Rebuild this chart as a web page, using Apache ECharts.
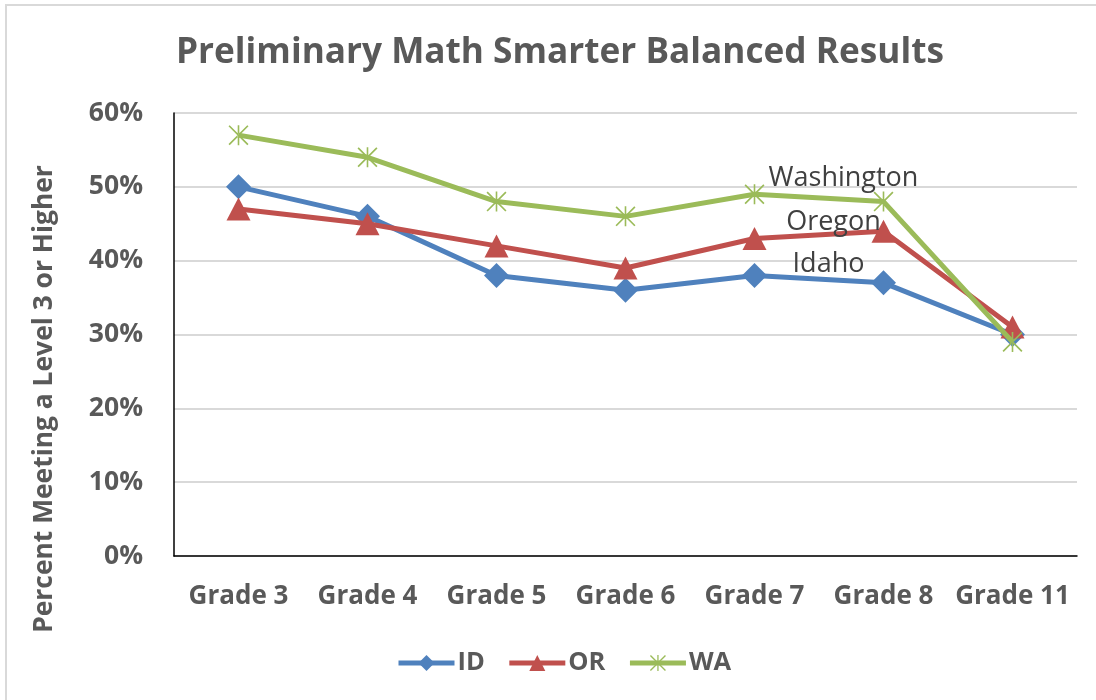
<!DOCTYPE html>
<html>
<head>
<meta charset="utf-8">
<script src="https://cdn.jsdelivr.net/npm/echarts@6/dist/echarts.min.js"></script>
<style>
  html, body { margin: 0; padding: 0; background: #fff; }
  #chart { width: 1096px; height: 700px; }
</style>
</head>
<body>
<div id="chart"></div>
<script>
// data (percent)
var grades = ['Grade 3', 'Grade 4', 'Grade 5', 'Grade 6', 'Grade 7', 'Grade 8', 'Grade 11'];
var idValues = [50, 46, 38, 36, 38, 37, 30];
var orValues = [47, 45, 42, 39, 43, 44, 31];
var waValues = [57, 54, 48, 46, 49, 48, 29];
var seriesNames = ['ID', 'OR', 'WA'];
var stateNames = ['Idaho', 'Oregon', 'Washington'];
var yTicks = [0, 10, 20, 30, 40, 50, 60];

var labelAt = 5; // Grade 8 carries the state name

var asterisk = 'path://M-5,-4.4 L-4.4,-5 L5,4.4 L4.4,5 Z M5,-4.4 L4.4,-5 L-5,4.4 L-4.4,5 Z M-0.4,-5 L0.4,-5 L0.4,5 L-0.4,5 Z';

var textGray = '#595959';
var font = '"Open Sans", "DejaVu Sans", sans-serif';

function withName(values, name, offset) {
    return values.map(function (v, i) {
        if (i !== labelAt) return v;
        return {
            value: v,
            label: {
                show: true,
                position: 'inside',
                offset: offset,
                formatter: name,
                fontFamily: font,
                fontSize: 27,
                color: '#404040'
            }
        };
    });
}

var chart = echarts.init(document.getElementById('chart'), null, { renderer: 'canvas' });

var option = {
    animation: false,
    backgroundColor: '#fff',
    title: {
        text: 'Preliminary Math Smarter Balanced Results',
        left: 171,
        top: 30,
        textStyle: {
            fontFamily: font,
            fontWeight: 'bold',
            fontSize: 35.2,
            color: textGray
        }
    },
    legend: {
        left: 391,
        top: 645,
        itemWidth: 56,
        itemHeight: 20,
        itemGap: 22,
        data: seriesNames,
        lineStyle: { width: 5 },
        textStyle: {
            fontFamily: font,
            fontWeight: 'bold',
            fontSize: 25.5,
            color: textGray,
            padding: [0, 0, 0, -2]
        }
    },
    grid: {
        left: 174,
        right: 19,
        top: 113,
        bottom: 144,
        containLabel: false
    },
    xAxis: {
        type: 'category',
        data: grades,
        boundaryGap: true,
        axisLine: { show: true, lineStyle: { color: '#000', width: 1.5 } },
        axisTick: { show: false },
        axisLabel: {
            interval: 0,
            margin: 28,
            fontFamily: font,
            fontWeight: 'bold',
            fontSize: 26,
            color: textGray
        }
    },
    yAxis: {
        type: 'value',
        min: yTicks[0],
        max: yTicks[yTicks.length - 1],
        interval: 10,
        axisLine: { show: true, lineStyle: { color: '#000', width: 1.5 } },
        axisTick: { show: false },
        axisLabel: {
            margin: 31,
            formatter: '{value}%',
            fontFamily: font,
            fontWeight: 'bold',
            fontSize: 26.5,
            color: textGray
        },
        splitLine: { show: true, lineStyle: { color: '#D9D9D9', width: 2 } }
    },
    graphic: [
        {
            type: 'rect',
            shape: { x: 6, y: 5, width: 1200, height: 800 },
            style: { fill: 'none', stroke: '#D9D9D9', lineWidth: 2 },
            silent: true,
            z: -1
        },
        {
            type: 'text',
            x: 44,
            y: 399,
            rotation: Math.PI / 2,
            style: {
                text: 'Percent Meeting a Level 3 or Higher',
                fontFamily: font,
                fontWeight: 'bold',
                fontSize: 26.4,
                fill: textGray,
                align: 'center',
                verticalAlign: 'middle'
            }
        }
    ],
    series: [
        {
            name: seriesNames[0],
            type: 'line',
            data: withName(idValues, stateNames[0], [-55, -19]),
            symbol: 'diamond',
            symbolSize: 25,
            lineStyle: { width: 5, color: '#4F81BD' },
            itemStyle: { color: '#4F81BD' },
            z: 3
        },
        {
            name: seriesNames[1],
            type: 'line',
            data: withName(orValues, stateNames[1], [-50, -9]),
            symbol: 'triangle',
            symbolSize: [24, 23],
            lineStyle: { width: 5, color: '#C0504D' },
            itemStyle: { color: '#C0504D' },
            z: 4
        },
        {
            name: seriesNames[2],
            type: 'line',
            data: withName(waValues, stateNames[2], [-40, -23]),
            symbol: asterisk,
            symbolSize: 20,
            lineStyle: { width: 5, color: '#9BBB59' },
            itemStyle: { color: '#9BBB59' },
            z: 5
        }
    ]
};

chart.setOption(option);
</script>
</body>
</html>
